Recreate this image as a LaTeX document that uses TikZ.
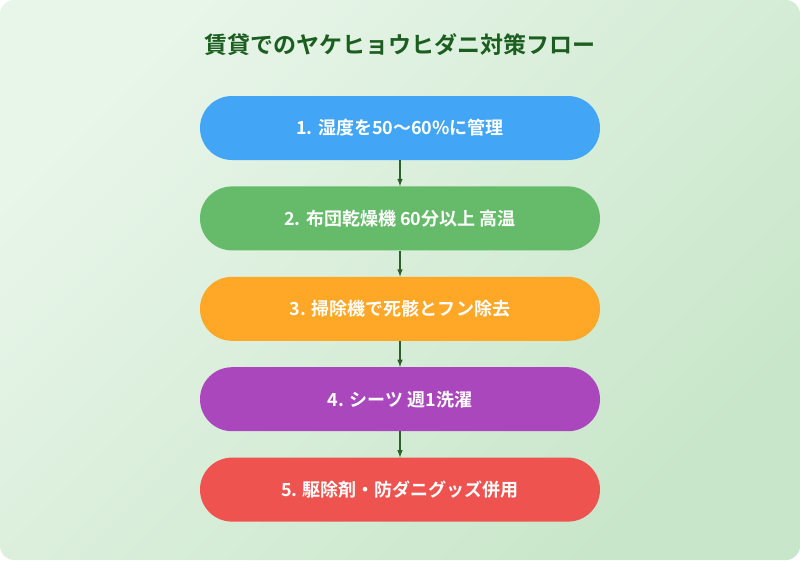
\documentclass[tikz,border=0pt]{standalone}
\usepackage{fontspec}
\setmainfont{Noto Sans CJK JP}[BoldFont={* Bold}]
\usetikzlibrary{positioning}
\definecolor{bgA}{HTML}{E8F5E9}
\definecolor{bgB}{HTML}{C8E6C9}
\definecolor{titlegreen}{HTML}{1B5E20}
\definecolor{arrowgreen}{HTML}{2E5E2A}
\definecolor{stepblue}{HTML}{42A5F5}
\definecolor{stepgreen}{HTML}{66BB6A}
\definecolor{steporange}{HTML}{FFA726}
\definecolor{steppurple}{HTML}{AB47BC}
\definecolor{stepred}{HTML}{EF5350}
\tikzset{
  stepbox/.style={
    rectangle,
    rounded corners=32pt,
    minimum width=400pt,
    minimum height=64pt,
    text=white,
    font=\bfseries\fontsize{18}{22}\selectfont,
  },
  flow/.style={
    draw=arrowgreen,
    line width=1.5pt,
    -latex,
  },
}
\begin{document}
\begin{tikzpicture}[x=1pt,y=-1pt]
  \shade[left color=bgA, right color=bgB, shading angle=45, rounded corners=14pt]
    (0,0) rectangle (800,560);
  \useasboundingbox (0,0) rectangle (800,560);
  \node[font=\bfseries\fontsize{23}{27}\selectfont, text=titlegreen] (title) at (400,45)
    {賃貸でのヤケヒョウヒダニ対策フロー};
  \node[stepbox, fill=stepblue] (s1) at (400,128) {1. 湿度を50〜60\%に管理};
  \node[stepbox, fill=stepgreen, below=26pt of s1] (s2) {2. 布団乾燥機 60分以上 高温};
  \node[stepbox, fill=steporange, below=26pt of s2] (s3) {3. 掃除機で死骸とフン除去};
  \node[stepbox, fill=steppurple, below=26pt of s3] (s4) {4. シーツ 週1洗濯};
  \node[stepbox, fill=stepred, below=26pt of s4] (s5) {5. 駆除剤・防ダニグッズ併用};
  \foreach \a/\b in {s1/s2, s2/s3, s3/s4, s4/s5}
    \draw[flow] (\a.south) -- (\b.north);
\end{tikzpicture}
\end{document}
